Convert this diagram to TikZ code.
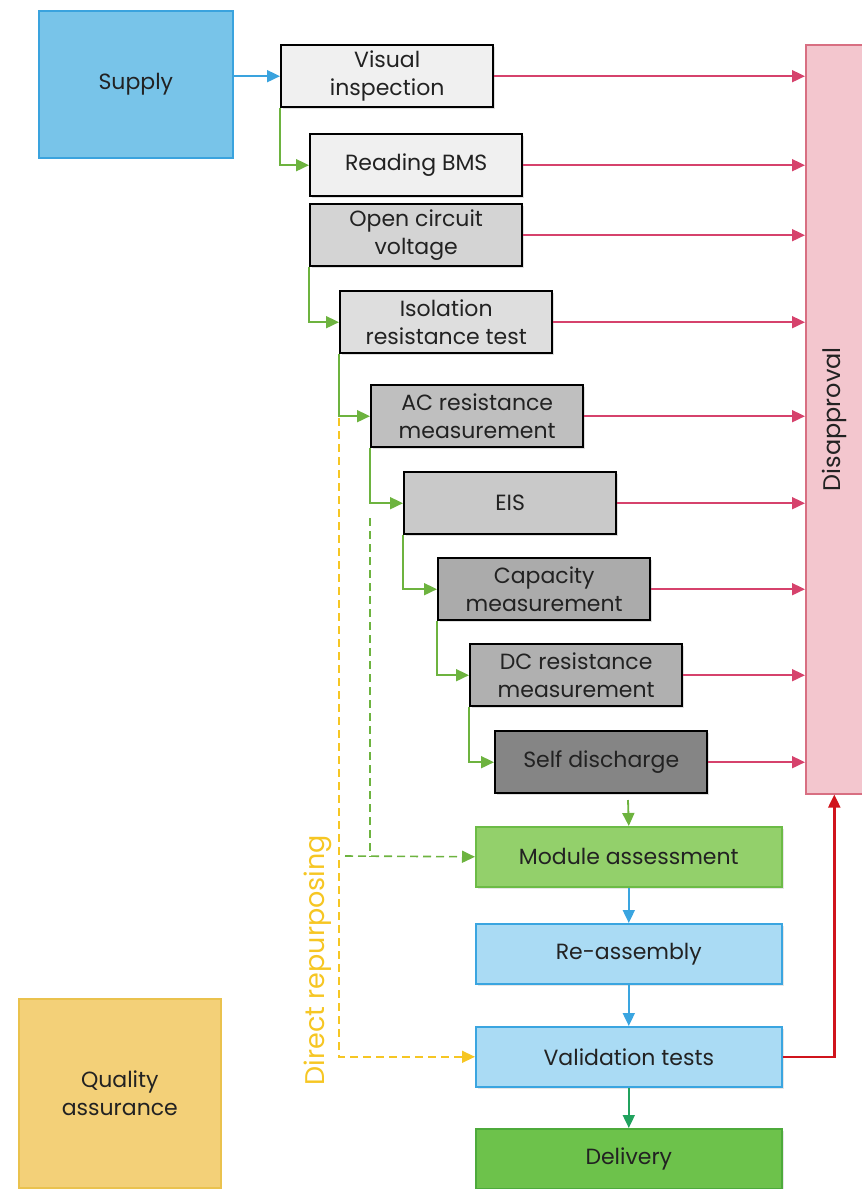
\documentclass[tikz,border=0pt]{standalone}
\usepackage{fontspec}
\setmainfont{Poppins}
\usetikzlibrary{arrows.meta,shadows}

\definecolor{supplyfill}{HTML}{78C4E9}
\definecolor{supplyline}{HTML}{3AA3DE}
\definecolor{disfill}{HTML}{F3C6CE}
\definecolor{disline}{HTML}{D86F82}
\definecolor{rejarrow}{HTML}{D6426C}
\definecolor{stepgreen}{HTML}{6DB33F}
\definecolor{modfill}{HTML}{93D06B}
\definecolor{modline}{HTML}{6CBB46}
\definecolor{bluefill}{HTML}{AADBF4}
\definecolor{blueline}{HTML}{3AA5E0}
\definecolor{delfill}{HTML}{6DC24B}
\definecolor{delline}{HTML}{4DAA3B}
\definecolor{qafill}{HTML}{F3D078}
\definecolor{qaline}{HTML}{EAC24E}
\definecolor{repurp}{HTML}{F6C623}
\definecolor{valred}{HTML}{D0141C}
\definecolor{delarrow}{HTML}{21A25E}
\definecolor{txt}{HTML}{222222}

\tikzset{
  tip/.style={-{Triangle[length=13pt,width=12pt]}},
  labelfont/.style={font=\fontsize{22}{28}\selectfont},
  testbox/.style={draw=black, line width=2.4pt, text=txt, align=center,
    minimum width=212pt, minimum height=62pt, anchor=north west,
    labelfont, inner sep=1pt,
    drop shadow={shadow xshift=2pt, shadow yshift=-2pt, opacity=0.25}},
  flowbox/.style={line width=1.6pt, text=txt, align=center,
    minimum width=306pt, minimum height=60pt, anchor=north west,
    labelfont,
    drop shadow={shadow xshift=2pt, shadow yshift=-2pt, opacity=0.2}},
  sidebox/.style={line width=1.6pt, text=txt, align=center, anchor=north west,
    labelfont},
  reject/.style={tip, draw=rejarrow, line width=1.8pt},
  stepline/.style={tip, draw=stepgreen, line width=1.8pt},
  flowline/.style={tip, line width=1.8pt},
}

\begin{document}
\begin{tikzpicture}[x=1pt, y=-1pt]
\useasboundingbox (0,0) rectangle (862,1189);

% side blocks
\node[sidebox, fill=supplyfill, draw=supplyline, minimum width=194pt, minimum height=147pt] (sup) at (38,10) {Supply};
\node[sidebox, fill=qafill, draw=qaline, minimum width=202pt, minimum height=189pt] (qa) at (18,998) {Quality\\assurance};
\node[sidebox, fill=disfill, draw=disline, minimum width=57pt, minimum height=749pt] (dis) at (805,44) {};
\node[rotate=90, text=txt, font=\fontsize{24}{28}\selectfont] (distext) at (dis.center) {Disapproval};

% test sequence
\node[testbox, fill=black!6]  (vis) at (280,44)  {Visual\\inspection};
\node[testbox, fill=black!6]  (bms) at (309,133) {Reading BMS};
\node[testbox, fill=black!17] (ocv) at (309,203) {Open circuit\\voltage};
\node[testbox, fill=black!13] (iso) at (339,290) {Isolation\\resistance test};
\node[testbox, fill=black!25] (acr) at (370,384) {AC resistance\\measurement};
\node[testbox, fill=black!21] (eis) at (403,471) {EIS};
\node[testbox, fill=black!33] (cap) at (437,557) {Capacity\\measurement};
\node[testbox, fill=black!31] (dcr) at (469,643) {DC resistance\\measurement};
\node[testbox, fill=black!48] (sdc) at (494,730) {Self discharge};

% main flow
\node[flowbox, fill=modfill, draw=modline]    (mod) at (475,826)  {Module assessment};
\node[flowbox, fill=bluefill, draw=blueline]  (ras) at (475,923)  {Re-assembly};
\node[flowbox, fill=bluefill, draw=blueline]  (val) at (475,1026) {Validation tests};
\node[flowbox, fill=delfill, draw=delline]    (del) at (475,1128) {Delivery};

\node[rotate=90, text=repurp, font=\fontsize{27}{30}\selectfont] (rep) at (318,960) {Direct repurposing};

% supply into inspection
\draw[flowline, draw=supplyline] (sup.east |- vis.west) -- (vis.west);

% stepwise hand-over between tests
\draw[stepline] (vis.south west) |- (bms.west);
\draw[stepline] (ocv.south west) |- (iso.west);
\draw[stepline] (iso.south west) |- (acr.west);
\draw[stepline] (acr.south west) |- (eis.west);
\draw[stepline] (eis.south west) |- (cap.west);
\draw[stepline] (cap.south west) |- (dcr.west);
\draw[stepline] (dcr.south west) |- (sdc.west);

% rejections
\foreach \n in {vis,bms,ocv,iso,acr,eis,cap,dcr,sdc}
  \draw[reject] (\n.east) -- (\n.east -| dis.west);

% flow to delivery
\coordinate (sdout) at (628,800);
\draw[flowline, draw=stepgreen] (sdout) -- (mod.north);
\draw[flowline, draw=blueline] (mod.south) -- (ras.north);
\draw[flowline, draw=blueline] (ras.south) -- (val.north);
\draw[flowline, draw=delarrow] (val.south) -- (del.north);
\draw[flowline, draw=valred, line width=2.4pt] (val.east) -| (dis.south);

% shortcuts
\coordinate (g1) at (370,518);
\coordinate (g0) at (345,856);
\draw[draw=stepgreen, line width=1.6pt, dash pattern=on 8pt off 5pt] (g1) -- (g1 |- mod.west);
\draw[tip, draw=stepgreen, line width=1.6pt, dash pattern=on 8pt off 5pt] (g0) -- (mod.west);
\coordinate (y1) at (339,418);
\draw[tip, draw=repurp, line width=1.4pt, dash pattern=on 8pt off 5pt] (y1) |- (val.west);
\end{tikzpicture}
\end{document}
